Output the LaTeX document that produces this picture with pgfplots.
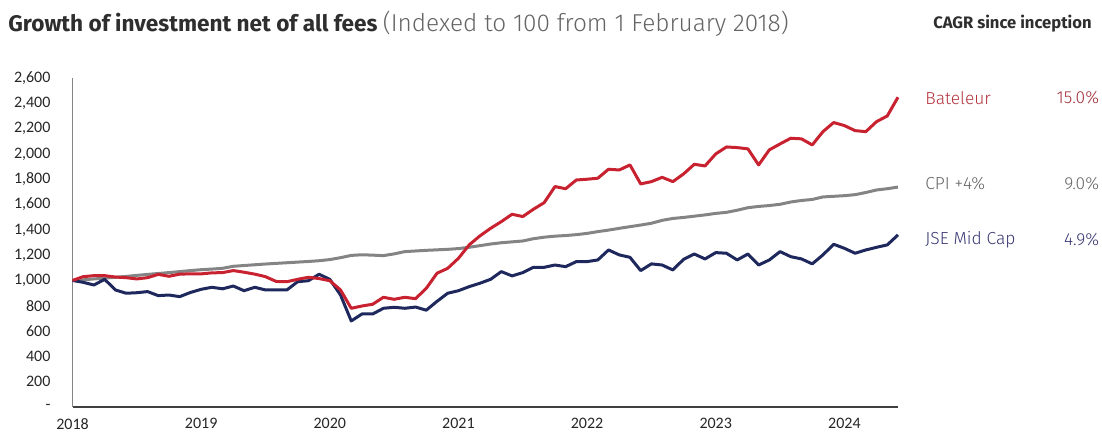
\documentclass[border=0pt]{standalone}
\usepackage{pgfplots}
\pgfplotsset{compat=1.18}
\usepackage{pgfplotstable}
\usepackage{fontspec}
\setmainfont{Fira Sans}
\newfontfamily\carlito{Carlito}
\newfontfamily\firalight{Fira Sans Light}
\definecolor{bred}{RGB}{200,33,48}
\definecolor{bnavy}{RGB}{30,40,92}
\definecolor{bgrey}{RGB}{132,132,132}
\definecolor{tred}{RGB}{180,50,60}
\definecolor{tnavy}{RGB}{55,55,115}
\definecolor{tgrey}{RGB}{100,100,100}
\pgfplotstableread{
m bat cpi jse
0 1000 1000 1000
1 1030 1005 985
2 1038 1012 964
3 1038 1018 1009
4 1027 1025 925
5 1022 1032 899
6 1012 1040 903
7 1022 1048 912
8 1048 1055 880
9 1033 1062 885
10 1050 1070 872
11 1052 1078 905
12 1052 1085 930
13 1060 1090 946
14 1062 1096 934
15 1078 1112 956
16 1065 1118 919
17 1050 1124 946
18 1030 1130 925
19 992 1135 925
20 990 1140 925
21 1009 1145 990
22 1025 1150 998
23 1015 1156 1049
24 998 1165 1009
25 925 1180 885
26 780 1198 680
27 798 1203 735
28 812 1200 735
29 867 1196 780
30 851 1210 788
31 867 1228 780
32 856 1233 790
33 938 1238 765
34 1057 1242 835
35 1096 1246 899
36 1175 1252 919
37 1281 1262 951
38 1352 1275 978
39 1412 1288 1009
40 1465 1298 1070
41 1523 1305 1036
42 1505 1312 1062
43 1563 1330 1104
44 1615 1342 1104
45 1742 1350 1122
46 1725 1355 1109
47 1794 1362 1149
48 1800 1372 1149
49 1808 1386 1162
50 1879 1398 1241
51 1873 1412 1202
52 1913 1425 1183
53 1763 1438 1078
54 1781 1452 1131
55 1815 1475 1122
56 1781 1490 1083
57 1842 1498 1167
58 1918 1508 1209
59 1905 1518 1170
60 2000 1530 1220
61 2055 1538 1215
62 2050 1555 1162
63 2040 1575 1209
64 1913 1585 1122
65 2032 1592 1162
66 2079 1602 1228
67 2124 1620 1188
68 2119 1632 1170
69 2071 1640 1131
70 2176 1660 1202
71 2248 1665 1286
72 2224 1670 1254
73 2184 1678 1215
74 2176 1695 1241
75 2255 1715 1262
76 2300 1725 1281
77 2448 1738 1360
}\data
\begin{document}
\begin{tikzpicture}
\useasboundingbox (-36.25pt,-12.5pt) rectangle (514.75pt,203.5pt);
\begin{axis}[
  at={(0pt,0pt)}, anchor=south west,
  scale only axis, width=412.75pt, height=164.5pt,
  xmin=0, xmax=77, ymin=0, ymax=2600,
  axis x line*=bottom, axis y line*=left,
  x axis line style={draw=black!75, line width=0.8pt, -},
  y axis line style={draw=bgrey, line width=0.8pt, -},
  xtick={0,12,24,36,48,60,72},
  xticklabels={2018,2019,2020,2021,2022,2023,2024},
  ytick={0,200,400,600,800,1000,1200,1400,1600,1800,2000,2200,2400,2600},
  yticklabels={-,200,400,600,800,{1,000},{1,200},{1,400},{1,600},{1,800},{2,000},{2,200},{2,400},{2,600}},
  major tick length=0pt,
  tick label style={font=\carlito\fontsize{8}{9}\selectfont, text=black!85},
  yticklabel style={anchor=east, xshift=-7.5pt},
  xticklabel style={anchor=north, yshift=-2.2pt},
  clip=false,
]
\addplot[bgrey, line width=1.5pt, line join=round] table[x=m,y=cpi]{\data};
\addplot[bnavy, line width=1.5pt, line join=round] table[x=m,y=jse]{\data};
\addplot[bred, line width=1.5pt, line join=round] table[x=m,y=bat]{\data};
\end{axis}
\node[anchor=west, inner sep=0pt, text=black!82, font=\fontsize{11.3}{13}\selectfont] at (-32.25pt,191.5pt)
  {\bfseries Growth of investment net of all fees {\mdseries\firalight\fontsize{12.2}{14}\selectfont\color{tgrey} (Indexed to 100 from 1 February 2018)}};
\node[anchor=east, inner sep=0pt, text=black!82, font=\bfseries\fontsize{8.3}{10}\selectfont] at (509.75pt,191.5pt) {CAGR since inception};
\node[anchor=west, inner sep=0pt, text=tred, font=\firalight\fontsize{8.7}{10}\selectfont] at (426.25pt,154.5pt) {Bateleur};
\node[anchor=east, inner sep=0pt, text=tred!90!black, font=\firalight\fontsize{8.7}{10}\selectfont] at (513.5pt,154.5pt) {15.0\%};
\node[anchor=west, inner sep=0pt, text=tgrey, font=\firalight\fontsize{8.7}{10}\selectfont] at (426.25pt,111.5pt) {CPI +4\%};
\node[anchor=east, inner sep=0pt, text=tgrey, font=\firalight\fontsize{8.7}{10}\selectfont] at (513.5pt,111.5pt) {9.0\%};
\node[anchor=west, inner sep=0pt, text=tnavy, font=\firalight\fontsize{8.7}{10}\selectfont] at (426.25pt,83.5pt) {JSE Mid Cap};
\node[anchor=east, inner sep=0pt, text=tnavy, font=\firalight\fontsize{8.7}{10}\selectfont] at (513.5pt,83.5pt) {4.9\%};
\end{tikzpicture}
\end{document}
